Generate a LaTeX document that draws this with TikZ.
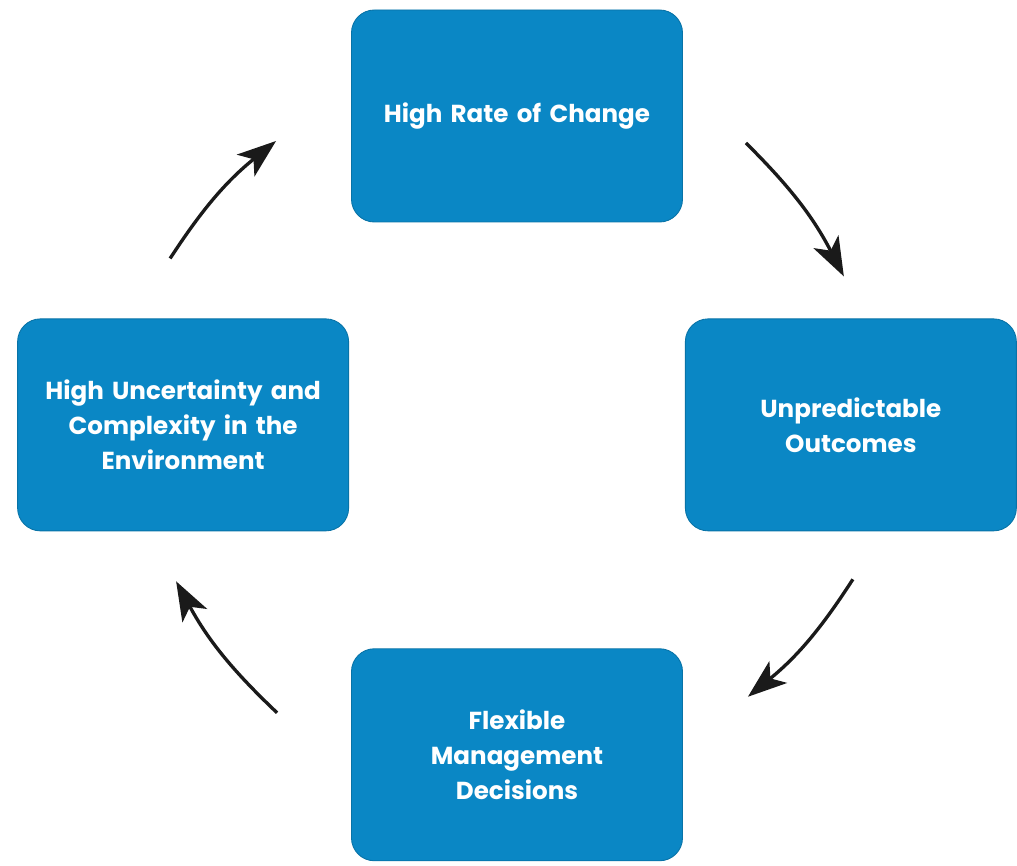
\documentclass[tikz,border=0pt]{standalone}
\usepackage{fontspec}
\setmainfont{Poppins}
\usepackage{xcolor}
\usepackage{tikz}
\usetikzlibrary{arrows.meta, positioning}
\definecolor{cycleblue}{HTML}{0A87C5}
\definecolor{arrowdark}{HTML}{1A1A1A}

\begin{document}
\begin{tikzpicture}[font=\bfseries,
    box/.style={rectangle, rounded corners=13pt, fill=cycleblue, draw=cycleblue!85!black, line width=0.5pt,
      minimum width=6.62cm, minimum height=4.24cm, text width=5.8cm, align=center, text=white,
      font=\bfseries\fontsize{14}{20}\selectfont},
    cyc/.style={-{Stealth[length=0.78cm, width=0.56cm, inset=0.2cm]}, line width=1.9pt, arrowdark}]

    \useasboundingbox (-10.34,-15.0) rectangle (10.0,2.32);

    % the four stages
    \node (top) [box] at (0,0) {High Rate of Change};
    \node (rgt) [box, below right=1.92cm and 0.04cm of top] {Unpredictable\\Outcomes};
    \node (lft) [box, below left=1.92cm and 0.04cm of top] {High Uncertainty and\\Complexity in the\\Environment};
    \node (bot) [box, below left=2.34cm and 0.04cm of rgt] {Flexible\\Management\\Decisions};

    % cycle arrows
    \draw[cyc] ([xshift=1.26cm, yshift=-0.54cm]top.east) to[bend left=9] ([xshift=-0.14cm, yshift=0.84cm]rgt.north);
    \draw[cyc] ([xshift=0.04cm, yshift=-0.96cm]rgt.south) to[bend left=9] ([xshift=1.3cm, yshift=1.16cm]bot.east);
    \draw[cyc] ([xshift=-1.48cm, yshift=0.84cm]bot.west) to[bend left=9] ([xshift=-0.14cm, yshift=-1.0cm]lft.south);
    \draw[cyc] ([xshift=-0.26cm, yshift=1.2cm]lft.north) to[bend left=9] ([xshift=-1.5cm, yshift=-0.5cm]top.west);
\end{tikzpicture}
\end{document}
